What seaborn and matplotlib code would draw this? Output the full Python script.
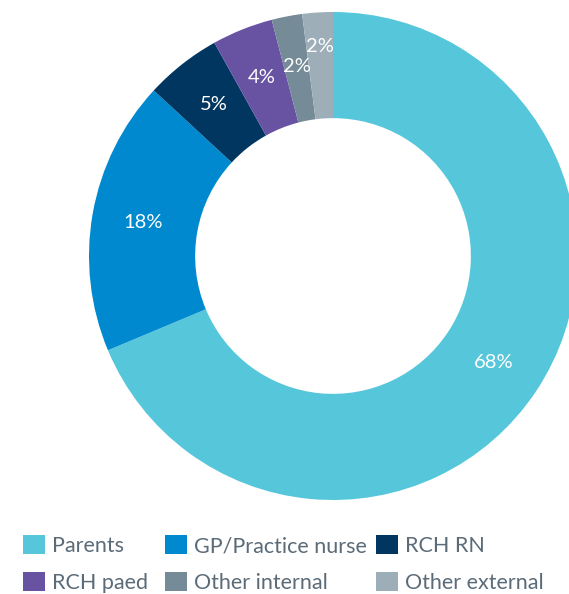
import matplotlib
matplotlib.use('Agg')
import matplotlib.pyplot as plt
import seaborn as sns
from matplotlib.patches import Patch

categories = ['Parents', 'GP/Practice nurse', 'RCH RN', 'RCH paed', 'Other internal', 'Other external']
shares = [68, 18, 5, 4, 2, 2]
pct_labels = ['68%', '18%', '5%', '4%', '2%', '2%']
colors = ['#56C7DB', '#0089CF', '#003660', '#6853A3', '#768B98', '#9EAEB8']

sns.set_style('white')
plt.rcParams['font.family'] = ['Lato', 'DejaVu Sans']

W, H = 569, 594
fig = plt.figure(figsize=(W / 100, H / 100), dpi=100)
# pie centre at (333, 256) px from top-left, outer radius 244 px
ax = fig.add_axes([89 / W, (H - 256 - 244) / H, 488 / W, 488 / H])

wedges, texts = ax.pie(shares, colors=colors, startangle=90, counterclock=False,
                       radius=1.0, wedgeprops=dict(width=0.435, linewidth=0),
                       labels=pct_labels, labeldistance=0.79,
                       textprops=dict(color='white', fontsize=14.5))
for t in texts:
    t.set_ha('center')
    t.set_va('center')
# last small slice label pushed outward a bit
x, y = texts[-1].get_position()
texts[-1].set_position((x * 1.09, y * 1.09))
ax.set_xlim(-1, 1)
ax.set_ylim(-1, 1)
ax.set_aspect('equal')
ax.axis('off')

# legend, three columns of two rows
col_x = [23, 165, 376]
for c in range(3):
    idx = [c, c + 3]
    handles = [Patch(facecolor=colors[i], edgecolor='none') for i in idx]
    fig.legend(handles, [categories[i] for i in idx], loc='upper left',
               bbox_to_anchor=(col_x[c] / W, 1 - 535 / H), frameon=False,
               prop=dict(size=15.5), labelcolor='#5B6B78',
               borderpad=0, borderaxespad=0,
               handlelength=1.0, handleheight=1.0, handletextpad=0.37,
               labelspacing=0.72)

fig.savefig('out.png', dpi=100)
